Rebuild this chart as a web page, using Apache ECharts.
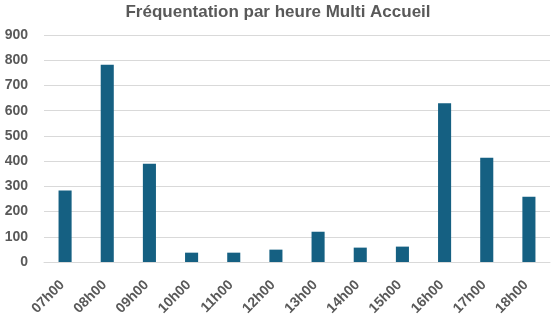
<!DOCTYPE html>
<html>
<head>
<meta charset="utf-8">
<script src="https://cdn.jsdelivr.net/npm/echarts@6/dist/echarts.min.js"></script>
<style>
  html, body { margin: 0; padding: 0; background: #fff; }
  #chart { width: 556px; height: 323px; }
</style>
</head>
<body>
<div id="chart"></div>
<script>
// Hourly attendance figures for the multi-care centre
const hours = ['07h00', '08h00', '09h00', '10h00', '11h00', '12h00', '13h00', '14h00', '15h00', '16h00', '17h00', '18h00'];
const attendance = [283, 782, 390, 37, 37, 49, 120, 57, 61, 629, 413, 259];
const yTicks = { min: 0, max: 900, step: 100 };

const chart = echarts.init(document.getElementById('chart'), null, { renderer: 'canvas' });
chart.setOption({
  animation: false,
  title: {
    text: 'Fréquentation par heure Multi Accueil',
    left: 'center',
    top: -1,
    textStyle: { fontFamily: 'Liberation Sans', fontWeight: 'bold', fontSize: 17, color: '#595959' }
  },
  grid: { left: 44, right: 6, top: 35, bottom: 61, containLabel: false },
  xAxis: {
    type: 'category',
    data: hours,
    axisLine: { show: true, lineStyle: { color: '#d9d9d9', width: 1 } },
    axisTick: { show: false },
    axisLabel: {
      rotate: 45,
      interval: 0,
      margin: 18,
      padding: [0, 4, 0, 0],
      fontFamily: 'Liberation Sans',
      fontWeight: 'bold',
      fontSize: 14,
      color: '#595959'
    }
  },
  yAxis: {
    type: 'value',
    min: yTicks.min,
    max: yTicks.max,
    interval: yTicks.step,
    axisLine: { show: false },
    axisTick: { show: false },
    splitLine: { lineStyle: { color: '#d9d9d9', width: 1 } },
    axisLabel: {
      margin: 16,
      fontFamily: 'Liberation Sans',
      fontWeight: 'bold',
      fontSize: 14,
      color: '#595959'
    }
  },
  series: [{
    type: 'bar',
    data: attendance,
    barWidth: '31%',
    itemStyle: { color: '#156082' }
  }]
});
</script>
</body>
</html>
